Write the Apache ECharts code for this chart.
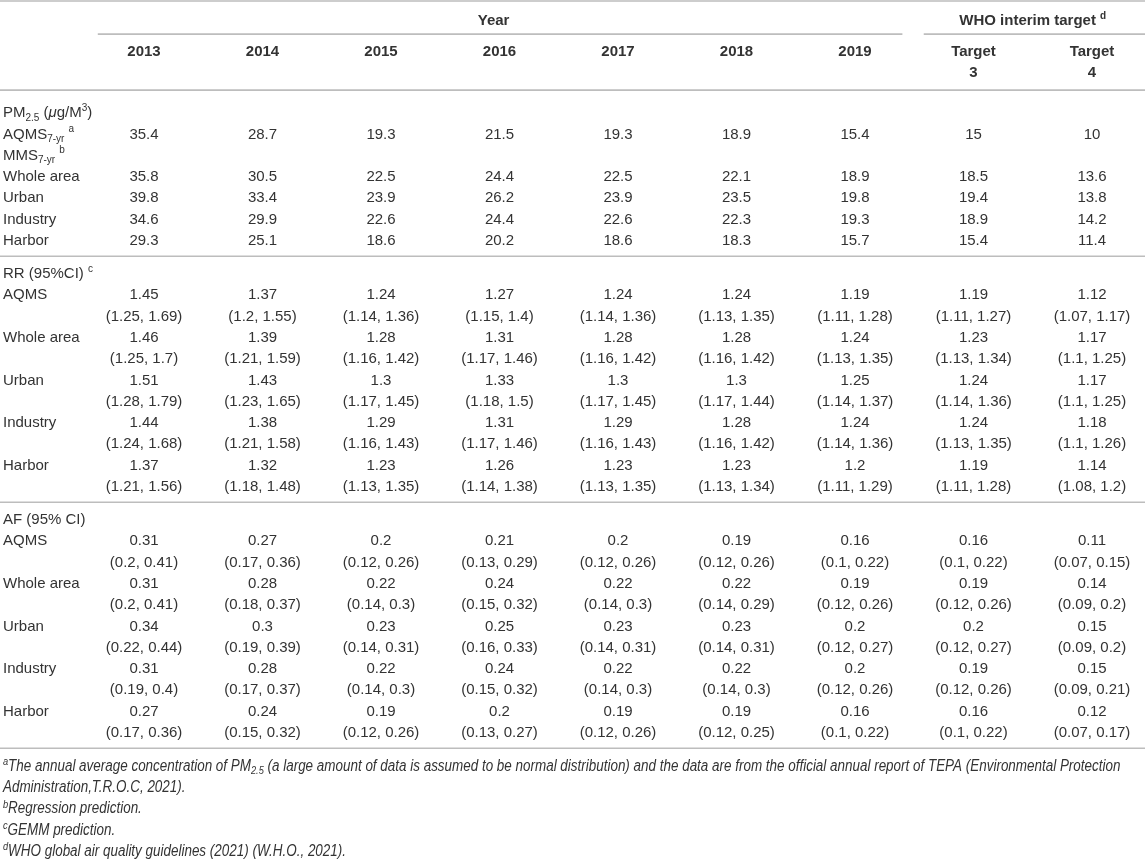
<!DOCTYPE html>
<html>
<head>
<meta charset="utf-8">
<script src="https://cdn.jsdelivr.net/npm/echarts@6/dist/echarts.min.js"></script>
<style>
html, body { margin: 0; padding: 0; background: #fff; }
#main { width: 1145px; height: 859px; }
</style>
</head>
<body>
<div id="main"></div>
<script>
// column headers
const years = ['2013', '2014', '2015', '2016', '2017', '2018', '2019']
const targets = ['3', '4']

// PM2.5 (ug/m3)
const pmAqms = [35.4, 28.7, 19.3, 21.5, 19.3, 18.9, 15.4, 15, 10]
const pmWhole = [35.8, 30.5, 22.5, 24.4, 22.5, 22.1, 18.9, 18.5, 13.6]
const pmUrban = [39.8, 33.4, 23.9, 26.2, 23.9, 23.5, 19.8, 19.4, 13.8]
const pmIndustry = [34.6, 29.9, 22.6, 24.4, 22.6, 22.3, 19.3, 18.9, 14.2]
const pmHarbor = [29.3, 25.1, 18.6, 20.2, 18.6, 18.3, 15.7, 15.4, 11.4]

// RR (95%CI)
const rrAqms = [1.45, 1.37, 1.24, 1.27, 1.24, 1.24, 1.19, 1.19, 1.12]
const rrAqmsCI = [[1.25, 1.69], [1.2, 1.55], [1.14, 1.36], [1.15, 1.4], [1.14, 1.36], [1.13, 1.35], [1.11, 1.28], [1.11, 1.27], [1.07, 1.17]]
const rrWhole = [1.46, 1.39, 1.28, 1.31, 1.28, 1.28, 1.24, 1.23, 1.17]
const rrWholeCI = [[1.25, 1.7], [1.21, 1.59], [1.16, 1.42], [1.17, 1.46], [1.16, 1.42], [1.16, 1.42], [1.13, 1.35], [1.13, 1.34], [1.1, 1.25]]
const rrUrban = [1.51, 1.43, 1.3, 1.33, 1.3, 1.3, 1.25, 1.24, 1.17]
const rrUrbanCI = [[1.28, 1.79], [1.23, 1.65], [1.17, 1.45], [1.18, 1.5], [1.17, 1.45], [1.17, 1.44], [1.14, 1.37], [1.14, 1.36], [1.1, 1.25]]
const rrIndustry = [1.44, 1.38, 1.29, 1.31, 1.29, 1.28, 1.24, 1.24, 1.18]
const rrIndustryCI = [[1.24, 1.68], [1.21, 1.58], [1.16, 1.43], [1.17, 1.46], [1.16, 1.43], [1.16, 1.42], [1.14, 1.36], [1.13, 1.35], [1.1, 1.26]]
const rrHarbor = [1.37, 1.32, 1.23, 1.26, 1.23, 1.23, 1.2, 1.19, 1.14]
const rrHarborCI = [[1.21, 1.56], [1.18, 1.48], [1.13, 1.35], [1.14, 1.38], [1.13, 1.35], [1.13, 1.34], [1.11, 1.29], [1.11, 1.28], [1.08, 1.2]]

// AF (95% CI)
const afAqms = [0.31, 0.27, 0.2, 0.21, 0.2, 0.19, 0.16, 0.16, 0.11]
const afAqmsCI = [[0.2, 0.41], [0.17, 0.36], [0.12, 0.26], [0.13, 0.29], [0.12, 0.26], [0.12, 0.26], [0.1, 0.22], [0.1, 0.22], [0.07, 0.15]]
const afWhole = [0.31, 0.28, 0.22, 0.24, 0.22, 0.22, 0.19, 0.19, 0.14]
const afWholeCI = [[0.2, 0.41], [0.18, 0.37], [0.14, 0.3], [0.15, 0.32], [0.14, 0.3], [0.14, 0.29], [0.12, 0.26], [0.12, 0.26], [0.09, 0.2]]
const afUrban = [0.34, 0.3, 0.23, 0.25, 0.23, 0.23, 0.2, 0.2, 0.15]
const afUrbanCI = [[0.22, 0.44], [0.19, 0.39], [0.14, 0.31], [0.16, 0.33], [0.14, 0.31], [0.14, 0.31], [0.12, 0.27], [0.12, 0.27], [0.09, 0.2]]
const afIndustry = [0.31, 0.28, 0.22, 0.24, 0.22, 0.22, 0.2, 0.19, 0.15]
const afIndustryCI = [[0.19, 0.4], [0.17, 0.37], [0.14, 0.3], [0.15, 0.32], [0.14, 0.3], [0.14, 0.3], [0.12, 0.26], [0.12, 0.26], [0.09, 0.21]]
const afHarbor = [0.27, 0.24, 0.19, 0.2, 0.19, 0.19, 0.16, 0.16, 0.12]
const afHarborCI = [[0.17, 0.36], [0.15, 0.32], [0.12, 0.26], [0.13, 0.27], [0.12, 0.26], [0.12, 0.25], [0.1, 0.22], [0.1, 0.22], [0.07, 0.17]]

const footnotes = [
    '{fsup|a}The annual average concentration of PM{fsub|2.5} (a large amount of data is assumed to be normal distribution) and the data are from the official annual report of TEPA (Environmental Protection',
    'Administration,T.R.O.C, 2021).',
    '{fsup|b}Regression prediction.',
    '{fsup|c}GEMM prediction.',
    '{fsup|d}WHO global air quality guidelines (2021) (W.H.O., 2021).'
]

// layout: x in column units, y in row units
const labelX = -1.19
const cells = []
const rules = []
const add = (x, y, text, kind) => cells.push({ x, y, text, kind })
const fmtCI = (c) => '(' + c[0] + ', ' + c[1] + ')'

add(2.95, 0.99, 'Year', 'head')
add(7.5, 0.99, 'WHO interim target {hsup|d}', 'head')
years.forEach((t, i) => add(i, 2.44, t, 'head'))
targets.forEach((t, i) => {
    add(7 + i, 2.44, 'Target', 'head')
    add(7 + i, 3.43, t, 'head')
})
rules.push([-1.22, 8.45, 0.05], [-0.39, 6.4, 1.6], [6.58, 8.45, 1.6], [-1.22, 8.45, 4.23])

let y = 5.31
add(labelX, y, 'PM{sub|2.5} ({it|μ}g/M{sup|3})', 'label')
y += 1
add(labelX, y, 'AQMS{sub|7-yr} {sup|a}', 'label')
pmAqms.forEach((v, i) => add(i, y, String(v), 'num'))
y += 1
add(labelX, y, 'MMS{sub|7-yr} {sup|b}', 'label')
const pmRows = [['Whole area', pmWhole], ['Urban', pmUrban], ['Industry', pmIndustry], ['Harbor', pmHarbor]]
pmRows.forEach(r => {
    y += 1
    add(labelX, y, r[0], 'label')
    r[1].forEach((v, i) => add(i, y, String(v), 'num'))
})

const ciBlock = (title, rows) => {
    rules.push([-1.22, 8.45, y + 0.72])
    y += 1.55
    add(labelX, y, title, 'label')
    rows.forEach(r => {
        y += 1
        add(labelX, y, r[0], 'label')
        r[1].forEach((v, i) => add(i, y, String(v), 'num'))
        y += 1
        r[2].forEach((c, i) => add(i, y, fmtCI(c), 'num'))
    })
}
ciBlock('RR (95%CI) {sup|c}', [
    ['AQMS', rrAqms, rrAqmsCI], ['Whole area', rrWhole, rrWholeCI], ['Urban', rrUrban, rrUrbanCI],
    ['Industry', rrIndustry, rrIndustryCI], ['Harbor', rrHarbor, rrHarborCI]
])
ciBlock('AF (95% CI)', [
    ['AQMS', afAqms, afAqmsCI], ['Whole area', afWhole, afWholeCI], ['Urban', afUrban, afUrbanCI],
    ['Industry', afIndustry, afIndustryCI], ['Harbor', afHarbor, afHarborCI]
])
rules.push([-1.22, 8.45, y + 0.72])
y += 1.59
footnotes.forEach(t => {
    add(labelX, y, t, 'foot')
    y += 0.99
})

const FONT = "'Liberation Sans', Arial, Helvetica, sans-serif"
const COLOR = '#333333'
const rich = {
    sub: { fontSize: 10, fontFamily: FONT, fill: COLOR, verticalAlign: 'bottom', lineHeight: 12 },
    sup: { fontSize: 10, fontFamily: FONT, fill: COLOR, verticalAlign: 'top', lineHeight: 12 },
    it: { fontSize: 15, fontFamily: FONT, fontStyle: 'italic', fill: COLOR, lineHeight: 20 },
    hsup: { fontSize: 10, fontFamily: FONT, fontWeight: 'bold', fill: COLOR, verticalAlign: 'top', lineHeight: 12 },
    fsup: { fontSize: 11, fontFamily: FONT, fontStyle: 'italic', fill: COLOR, verticalAlign: 'top', lineHeight: 13 },
    fsub: { fontSize: 11, fontFamily: FONT, fontStyle: 'italic', fill: COLOR, verticalAlign: 'bottom', lineHeight: 13 }
}

const styleOf = (kind) => {
    if (kind === 'head') return { fontWeight: 'bold', fontSize: 15, fontFamily: FONT, align: 'center' }
    if (kind === 'num') return { fontSize: 15, fontFamily: FONT, align: 'center' }
    if (kind === 'foot') return { fontSize: 16, fontFamily: FONT, fontStyle: 'italic', align: 'left' }
    return { fontSize: 15, fontFamily: FONT, align: 'left' }
}

let myChart = echarts.init(document.getElementById('main'))
const options = {
    animation: false,
    grid: { left: 144, right: 53, top: 0, bottom: 0 },
    xAxis: { type: 'value', min: 0, max: 8, show: false },
    yAxis: { type: 'value', min: 0, max: 859 / 21.3, inverse: true, show: false },
    series: [
        {
            type: 'custom',
            clip: false,
            data: rules.map(r => [r[0], r[2]]),
            renderItem: (params, api) => {
                const r = rules[params.dataIndex]
                const a = api.coord([r[0], r[2]])
                const b = api.coord([r[1], r[2]])
                return {
                    type: 'line',
                    shape: { x1: a[0], y1: a[1], x2: b[0], y2: b[1] },
                    style: { stroke: '#bdbdbd', lineWidth: 1.6 }
                }
            }
        },
        {
            type: 'custom',
            clip: false,
            data: cells.map(c => [c.x, c.y]),
            renderItem: (params, api) => {
                const c = cells[params.dataIndex]
                const p = api.coord([c.x, c.y])
                return {
                    type: 'text',
                    x: p[0],
                    y: p[1],
                    // footnotes are set in a condensed italic face
                    scaleX: c.kind === 'foot' ? 0.84 : 1,
                    style: Object.assign({
                        text: c.text,
                        fill: COLOR,
                        verticalAlign: 'middle',
                        lineHeight: 20,
                        rich: rich
                    }, styleOf(c.kind))
                }
            }
        }
    ]
}
myChart.setOption(options)
</script>
</body>
</html>
